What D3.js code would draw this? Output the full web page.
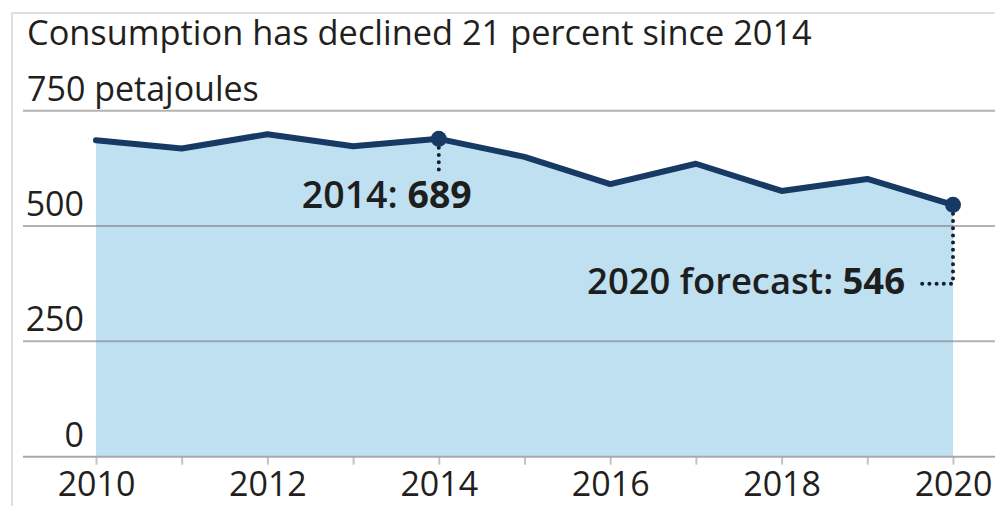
<!DOCTYPE html>
<html>
<head>
<meta charset="utf-8">
<script src="https://cdn.jsdelivr.net/npm/d3@7/dist/d3.min.js"></script>
<style>
  html, body { margin: 0; padding: 0; background: #fff; }
  svg { display: block; font-family: "Open Sans", "Noto Sans", sans-serif; }
</style>
</head>
<body>
<svg id="chart" width="995" height="506"></svg>
<script>
const titleText = "Consumption has declined 21 percent since 2014";
const unitText = "petajoules";
const years = [2010, 2011, 2012, 2013, 2014, 2015, 2016, 2017, 2018, 2019, 2020];
const consumption = [686, 668, 699, 673, 689, 650, 591, 635, 576, 602, 546];
const yTicks = [0, 250, 500, 750];
const xTickLabels = [2010, 2012, 2014, 2016, 2018, 2020];
const highlightPeak = { year: 2014, value: 689, label: "2014: ", valueLabel: "689" };
const highlightEnd = { year: 2020, value: 546, label: "2020 forecast: ", valueLabel: "546" };

const svg = d3.select("#chart");
const W = 995, H = 506;

const x = d3.scaleLinear().domain([2010, 2020]).range([96, 953]);
const y = d3.scaleLinear().domain([0, 750]).range([456.7, 110.7]);

// frame
svg.append("path")
  .attr("d", `M12,${H} V13 H${W}`)
  .attr("fill", "none").attr("stroke", "#d6d6d6").attr("stroke-width", 1.5);

// title
function fit(sel, target) {
  const node = sel.node();
  const fs = parseFloat(sel.attr("font-size"));
  const w = node.getComputedTextLength();
  sel.attr("font-size", fs * target / w);
}
const title = svg.append("text").attr("x", 27).attr("y", 45)
  .attr("font-size", 32).attr("fill", "#231f20").text(titleText);
fit(title, 785);

// area
const area = d3.area().x((d, i) => x(years[i])).y0(y(0)).y1(d => y(d));
svg.append("path").datum(consumption).attr("d", area).attr("fill", "#bfe0f1");

// gridlines
svg.append("g").selectAll("line").data(yTicks.filter(d => d > 0)).join("line")
  .attr("x1", 23).attr("x2", W).attr("y1", d => y(d)).attr("y2", d => y(d))
  .attr("stroke", "#7f7f7f").attr("stroke-opacity", 0.6).attr("stroke-width", 2);

// y labels
const yl = svg.append("g");
yl.selectAll("text").data(yTicks).join("text")
  .attr("x", d => d === 750 ? 27 : 84)
  .attr("y", d => y(d) - 10)
  .attr("text-anchor", d => d === 750 ? "start" : "end")
  .attr("font-size", 34).attr("fill", "#231f20")
  .text(d => d === 750 ? `${d} ${unitText}` : d);

// x axis
const xAxis = d3.axisBottom(x).tickValues(years).tickSize(8).tickFormat(d => xTickLabels.includes(d) ? d : "");
const gx = svg.append("g").attr("transform", `translate(0,${y(0)})`).call(xAxis);
gx.select(".domain").remove();
gx.selectAll(".tick line").attr("stroke", "#c4c4c4").attr("stroke-width", 2);
gx.selectAll(".tick text").attr("font-size", 34).attr("fill", "#231f20").attr("dy", 0).attr("y", 39)
  .attr("font-family", "'Open Sans', sans-serif");
svg.append("line").attr("x1", 23).attr("x2", W).attr("y1", y(0)).attr("y2", y(0))
  .attr("stroke", "#a8a8a8").attr("stroke-width", 2);

// line
const line = d3.line().x((d, i) => x(years[i])).y(d => y(d));
svg.append("path").datum(consumption).attr("d", line)
  .attr("fill", "none").attr("stroke", "#163a63").attr("stroke-width", 6)
  .attr("stroke-linejoin", "round").attr("stroke-linecap", "round");

// dotted leader lines
const dotStyle = s => s.attr("fill", "none").attr("stroke", "#15202e").attr("stroke-width", 4)
  .attr("stroke-linecap", "round").attr("stroke-dasharray", "0,7.2");
const px = x(highlightPeak.year), py = y(highlightPeak.value);
svg.append("path").attr("d", `M${px},${py + 9} V${py + 33}`).call(dotStyle);
const ex = x(highlightEnd.year), ey = y(highlightEnd.value);
svg.append("path").attr("d", `M${ex},${ey + 9} V${ey + 79} H${ex - 36}`).call(dotStyle);

// dots
svg.append("g").selectAll("circle").data([highlightPeak, highlightEnd]).join("circle")
  .attr("cx", d => x(d.year)).attr("cy", d => y(d.value)).attr("r", 8).attr("fill", "#163a63");

// annotations
const a1 = svg.append("text").attr("x", px + 33).attr("y", py + 69)
  .attr("text-anchor", "end").attr("font-size", 36.5).attr("fill", "#1e1e1e");
a1.append("tspan").attr("font-weight", 600).text(highlightPeak.label);
a1.append("tspan").attr("font-weight", 700).text(highlightPeak.valueLabel);
fit(a1, 170);

const a2 = svg.append("text").attr("x", ex - 48).attr("y", ey + 89)
  .attr("text-anchor", "end").attr("font-size", 36.5).attr("fill", "#1e1e1e");
a2.append("tspan").attr("font-weight", 600).text(highlightEnd.label);
a2.append("tspan").attr("font-weight", 700).text(highlightEnd.valueLabel);
fit(a2, 318);
</script>
</body>
</html>
